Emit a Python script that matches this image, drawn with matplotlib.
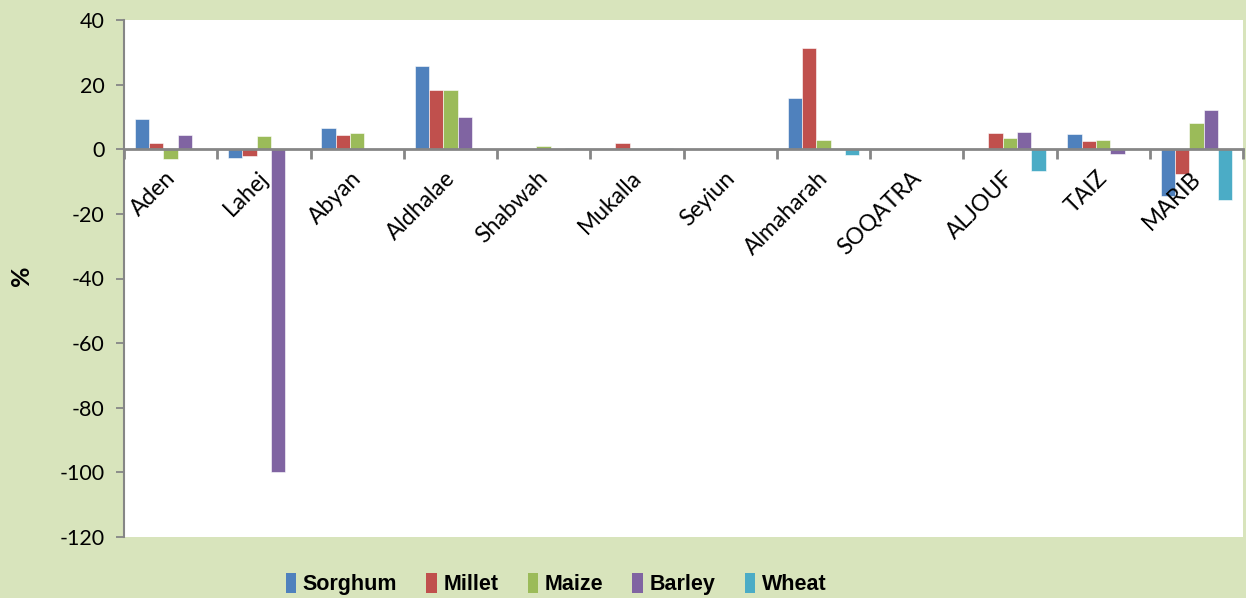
import matplotlib
matplotlib.use("Agg")
import matplotlib.pyplot as plt
from matplotlib.patches import Patch
import numpy as np

plt.rcParams['font.family'] = ['Lato', 'DejaVu Sans']

regions = ["Aden", "Lahej", "Abyan", "Aldhalae", "Shabwah", "Mukalla", "Seyiun",
           "Almaharah", "SOQATRA", "ALJOUF", "TAIZ", "MARIB"]
series_names = ["Sorghum", "Millet", "Maize", "Barley", "Wheat"]
sorghum = [9.5, -2.7, 6.6, 25.9, 0.0, 0.0, 0.0, 15.8, 0.0, 0.0, 4.6, -14.6]
millet  = [1.9, -2.2, 4.5, 18.2, 0.0, 1.9, 0.0, 31.2, 0.0, 5.1, 2.6, -7.6]
maize   = [-2.9, 4.0, 5.0, 18.2, 1.0, 0.0, 0.0, 2.9, 0.0, 3.5, 2.8, 8.1]
barley  = [4.5, -100.0, 0.0, 10.0, 0.0, 0.0, 0.0, 0.0, 0.0, 5.4, -1.5, 12.0]
wheat   = [0.0, 0.0, 0.0, 0.0, 0.4, 0.4, 0.0, -1.7, 0.0, -6.8, 0.0, -15.6]
yticks = [-120, -100, -80, -60, -40, -20, 0, 20, 40]

colors = ["#4F81BD", "#C0504D", "#9BBB59", "#8064A2", "#4BACC6"]
bg = "#D8E4BC"

fig = plt.figure(figsize=(12.46, 5.98), dpi=100, facecolor=bg)
ax = fig.add_axes([124/1246, 1-537/598, (1243-124)/1246, (537-20)/598])
ax.set_facecolor("white")

data = [sorghum, millet, maize, barley, wheat]
n = len(regions)
x = np.arange(n)
w = 1/6.5
for k, (vals, c) in enumerate(zip(data, colors)):
    ax.bar(x + (k-2)*w, vals, width=w, color=c, edgecolor="white", linewidth=0.4, zorder=2)

ax.set_xlim(-0.5, n-0.5)
ax.set_ylim(-120, 40)
ax.set_yticks(yticks)
ax.set_yticklabels([str(v) for v in yticks], fontsize=15.5)
ax.tick_params(axis='y', direction='out', length=6, width=1.3, color="#868686", pad=8)

for s in ['top', 'right']:
    ax.spines[s].set_visible(False)
ax.spines['left'].set_color("#868686")
ax.spines['left'].set_linewidth(1.5)
ax.spines['bottom'].set_position(('data', 0))
ax.spines['bottom'].set_color("#868686")
ax.spines['bottom'].set_linewidth(2)
ax.spines['bottom'].set_zorder(3)
ax.set_xticks(np.arange(n+1) - 0.5)
ax.set_xticklabels([])
ax.tick_params(axis='x', direction='out', length=7, width=2, color="#868686")

for i, name in enumerate(regions):
    ax.text(i + 0.09, -5.6, name, rotation=45, ha='right', va='top',
            fontsize=16.5, color="black", zorder=4)

fig.text(21/1246, 1-276/598, "%", rotation=90, fontsize=18, fontweight='bold',
         ha='center', va='center')

handles = [Patch(facecolor=c, edgecolor='none') for c in colors]
fig.legend(handles, series_names, loc='center', bbox_to_anchor=(556/1246, 1-584/598),
           ncol=5, frameon=False,
           prop={'weight': 'bold', 'size': 15.5, 'family': ['Liberation Sans', 'DejaVu Sans']},
           handlelength=0.5, handleheight=1.05, handletextpad=0.3, columnspacing=1.35)

fig.savefig("out.png", dpi=100, facecolor=bg)
